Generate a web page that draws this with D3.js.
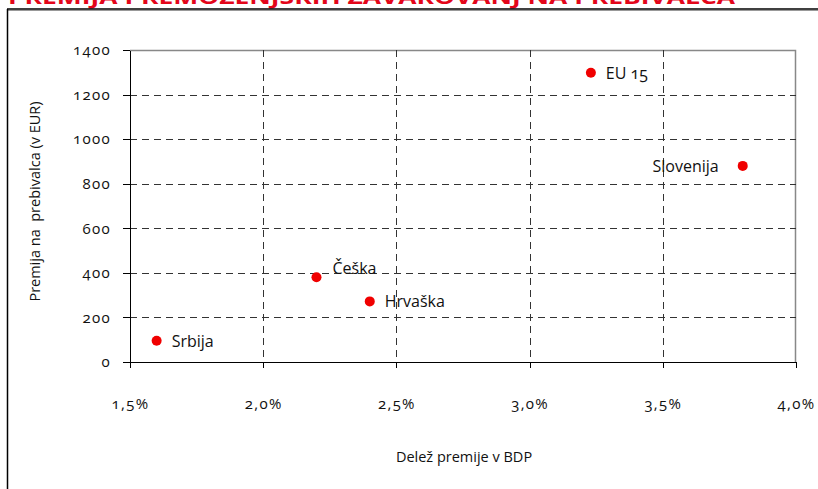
<!DOCTYPE html>
<html lang="sl">
<meta charset="utf-8">
<style>
body { margin: 0; background: #fff; }
svg { display: block; font-family: "Open Sans", "Noto Sans", sans-serif; }
.tick text { font-family: "Open Sans", "Noto Sans", sans-serif; font-size: 15px; letter-spacing: 1.3px; font-variant-numeric: oldstyle-nums; font-feature-settings: "onum"; }
.grid line { stroke: #333; stroke-dasharray: 7,5; shape-rendering: crispEdges; }
.axis path, .axis line { stroke: #000; shape-rendering: crispEdges; }
</style>
<body>
<svg width="818" height="489"></svg>
<script src="https://d3js.org/d3.v7.min.js"></script>
<script>

var countries = ["Srbija", "Češka", "Hrvaška", "EU 15", "Slovenija"];
var gdpShare = [1.60, 2.20, 2.40, 3.23, 3.80];      // % of GDP
var premium = [95, 380, 272, 1298, 880];             // EUR per capita
var xTicks = [1.5, 2.0, 2.5, 3.0, 3.5, 4.0];
var yTicks = [0, 200, 400, 600, 800, 1000, 1200, 1400];

var svg = d3.select("svg");
var plot = { left: 130, right: 796, top: 50, bottom: 362 };

// title (cut off at the top of the picture)
svg.append("text")
    .attr("x", 8)
    .attr("y", 3.5)
    .attr("fill", "#e3061a")
    .attr("font-weight", "bold")
    .attr("font-size", 20)
    .attr("textLength", 727)
    .attr("lengthAdjust", "spacingAndGlyphs")
    .text("PREMIJA PREMOŽENJSKIH ZAVAROVANJ NA PREBIVALCA");

// outer frame
svg.append("line").attr("x1", 7).attr("x2", 818).attr("y1", 9).attr("y2", 9)
    .attr("stroke", "#000").attr("stroke-width", 1.5);
svg.append("line").attr("x1", 8).attr("x2", 818).attr("y1", 10.5).attr("y2", 10.5)
    .attr("stroke", "#999").attr("stroke-width", 1);
svg.append("line").attr("x1", 7.5).attr("x2", 7.5).attr("y1", 9).attr("y2", 489)
    .attr("stroke", "#000").attr("stroke-width", 1.5);

var x = d3.scaleLinear().domain([1.5, 4.0]).range([plot.left, plot.right]);
var y = d3.scaleLinear().domain([0, 1400]).range([plot.bottom, plot.top]);

// plot box (top + right edges grey)
svg.append("path")
    .attr("d", "M" + plot.left + "," + (plot.top + 0.5) + "H" + (plot.right - 0.5) + "V" + plot.bottom)
    .attr("fill", "none")
    .attr("stroke", "#888")
    .attr("stroke-width", 1.5);

// dashed grid
svg.append("g").attr("class", "grid")
  .selectAll("line")
  .data(yTicks.filter(function(d) { return d > 0 && d < 1400; }))
  .enter().append("line")
    .attr("x1", plot.left).attr("x2", plot.right)
    .attr("y1", function(d) { return Math.round(y(d)) + 0.5; })
    .attr("y2", function(d) { return Math.round(y(d)) + 0.5; });

svg.append("g").attr("class", "grid")
  .selectAll("line")
  .data(xTicks.filter(function(d) { return d > 1.5 && d < 4.0; }))
  .enter().append("line")
    .attr("y1", plot.top).attr("y2", plot.bottom)
    .attr("x1", function(d) { return Math.round(x(d)) + 0.5; })
    .attr("x2", function(d) { return Math.round(x(d)) + 0.5; });

// axes
svg.append("g")
    .attr("class", "axis")
    .attr("transform", "translate(" + plot.left + ",0)")
    .call(d3.axisLeft(y).tickValues(yTicks).tickSize(7).tickSizeOuter(0).tickPadding(12).tickFormat(d3.format("d")))
  .selectAll("text").attr("fill", "#111");

svg.append("g")
    .attr("class", "axis")
    .attr("transform", "translate(0," + plot.bottom + ")")
    .call(d3.axisBottom(x).tickValues(xTicks).tickSize(6).tickSizeOuter(0).tickPadding(30)
      .tickFormat(function(d) { return d.toFixed(1).replace(".", ",") + "%"; }))
  .selectAll("text").attr("fill", "#111");

// axis titles
svg.append("text")
    .attr("transform", "translate(39.5,201.5) rotate(-90)")
    .attr("text-anchor", "middle")
    .attr("font-size", 14.5)
    .attr("fill", "#111")
    .style("white-space", "pre")
    .text("Premija na  prebivalca (v EUR)");

svg.append("text")
    .attr("x", 464)
    .attr("y", 461.5)
    .attr("text-anchor", "middle")
    .attr("font-size", 14.5)
    .attr("fill", "#111")
    .text("Delež premije v BDP");

// points
var pts = countries.map(function(c, i) { return { name: c, g: gdpShare[i], p: premium[i] }; });

svg.append("g").selectAll("circle")
  .data(pts)
  .enter().append("circle")
    .attr("cx", function(d) { return x(d.g); })
    .attr("cy", function(d) { return y(d.p); })
    .attr("r", 5)
    .attr("fill", "#f00000");

// label offsets relative to each point
var labelDx = { "Srbija": 15, "Češka": 16, "Hrvaška": 15, "EU 15": 15, "Slovenija": -24 };
var labelDy = { "Srbija": 6, "Češka": -3, "Hrvaška": 6, "EU 15": 6, "Slovenija": 6 };

svg.append("g").selectAll("text")
  .data(pts)
  .enter().append("text")
    .attr("x", function(d) { return x(d.g) + labelDx[d.name]; })
    .attr("y", function(d) { return y(d.p) + labelDy[d.name]; })
    .attr("text-anchor", function(d) { return labelDx[d.name] < 0 ? "end" : "start"; })
    .attr("font-size", 16)
    .attr("fill", "#111")
    .style("font-variant-numeric", "oldstyle-nums")
    .text(function(d) { return d.name; });

</script>
</body>
</html>
